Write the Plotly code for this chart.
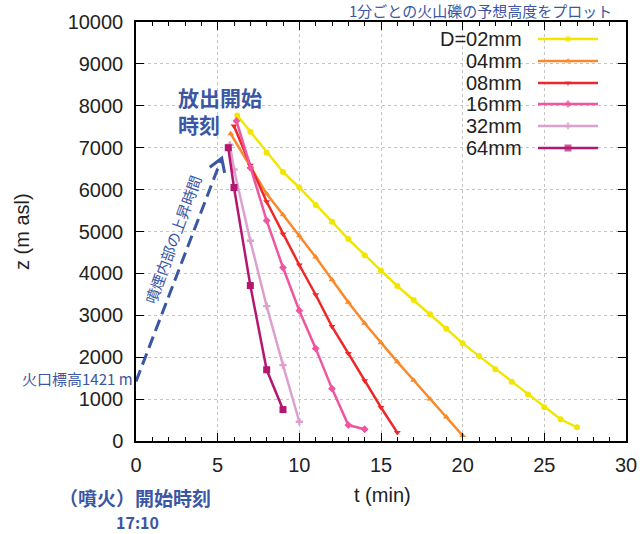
import numpy as np
import plotly.graph_objects as go

# ---------------- data ----------------
labels = ["D=02mm", "04mm", "08mm", "16mm", "32mm", "64mm"]

t02 = [6.2, 7, 8, 9, 10, 11, 12, 13, 14, 15, 16, 17, 18, 19, 20, 21, 22, 23, 24, 25, 26, 27]
z02 = [7770, 7380, 6880, 6420, 6050, 5630, 5235, 4820, 4435, 4065, 3700, 3366, 3024, 2680,
       2330, 2026, 1715, 1412, 1110, 806, 519, 328]

t04 = [5.8, 7, 8, 9, 10, 11, 12, 13, 14, 15, 16, 17, 18, 19, 20]
z04 = [7330, 6540, 5900, 5400, 4900, 4390, 3850, 3310, 2810, 2345, 1890, 1450, 1005, 574, 130]

t08 = [6.0, 7, 8, 9, 10, 11, 12, 13, 14, 15, 16]
z08 = [7520, 6580, 5710, 4940, 4200, 3490, 2730, 2090, 1440, 800, 200]

t16 = [6.15, 7, 8, 9, 10, 11, 12, 13, 14]
z16 = [7640, 6520, 5260, 4140, 3110, 2210, 1250, 380, 280]

t32 = [5.75, 6, 7, 8, 9, 10]
z32 = [7070, 6480, 4780, 3220, 1810, 460]

t64 = [5.65, 6, 7, 8, 9]
z64 = [7000, 6050, 3710, 1700, 750]

crater_elev = 1421
x_ticks = [0, 5, 10, 15, 20, 25, 30]
y_ticks = [0, 1000, 2000, 3000, 4000, 5000, 6000, 7000, 8000, 9000, 10000]

# ---------------- styling ----------------
colors = ["#f2e600", "#f98a2c", "#ee2828", "#f0559f", "#dca0cf", "#b3176f"]
symbols = ["circle", "triangle-up", "triangle-down", "diamond", "cross", "square"]
msizes = [6, 6, 6, 6, 6, 7]
series = [(t02, z02), (t04, z04), (t08, z08), (t16, z16), (t32, z32), (t64, z64)]

BLUE = "#3a56a5"
TXT = "#222222"
SANS = "Liberation Sans, Arial, sans-serif"
CJK = "Noto Sans CJK JP, sans-serif"

W, H = 640, 534
L, R, T, B = 136, 14, 22, 93
PW, PH = W - L - R, H - T - B
XR = [0, 30]
YR = [0, 10000]

fig = go.Figure()

for (t, z), c, s, ms, name in zip(series, colors, symbols, msizes, labels):
    fig.add_trace(go.Scatter(
        x=t, y=z, mode="lines+markers", name=name, showlegend=False,
        line=dict(color=c, width=2.5),
        marker=dict(color=c, symbol=s, size=ms, line=dict(width=0)),
    ))

# ---- custom gnuplot-style legend (text right, sample on right) ----
leg_rows_px = [39, 61, 83, 104, 126, 148]
lx0, lx1 = (538 - L) / PW, (598 - L) / PW
for (name, c, s, ms, ypx) in zip(labels, colors, symbols, msizes, leg_rows_px):
    fy = (T + PH - ypx) / PH
    fig.add_trace(go.Scatter(
        x=[lx0, (lx0 + lx1) / 2, lx1], y=[fy, fy, fy], xaxis="x2", yaxis="y2",
        mode="lines+markers", showlegend=False, hoverinfo="skip",
        line=dict(color=c, width=2.5),
        marker=dict(color=c, symbol=s, size=[0, ms, 0], line=dict(width=0)),
    ))
    fig.add_annotation(xref="paper", yref="paper", x=(524 - L) / PW, y=fy,
                       xanchor="right", yanchor="middle", showarrow=False,
                       text=name, font=dict(family=SANS, size=20, color=TXT))

# ---- dashed arrow from crater (t=0) to release start ----
tip_t, tip_z = 5.25, 6750
fig.add_shape(type="line", xref="x", yref="y", x0=0, y0=crater_elev, x1=tip_t, y1=tip_z,
              line=dict(color=BLUE, width=3, dash="12px,6px"))
sx = PW / (XR[1] - XR[0])
sy = PH / (YR[1] - YR[0])
v = np.array([(tip_t - 0) * sx, -(tip_z - crater_elev) * sy])
u = v / np.linalg.norm(v)
b = -u
pts = []
for ang in (np.radians(32), np.radians(-32)):
    rot = np.array([[np.cos(ang), -np.sin(ang)], [np.sin(ang), np.cos(ang)]])
    w = rot @ b * 15
    pts.append((tip_t + w[0] / sx, tip_z - w[1] / sy))
path = f"M {pts[0][0]},{pts[0][1]} L {tip_t},{tip_z} L {pts[1][0]},{pts[1][1]}"
fig.add_shape(type="path", xref="x", yref="y", path=path,
              line=dict(color=BLUE, width=3))

# ---- annotations ----
fig.add_annotation(xref="paper", yref="paper", x=(480 - L) / PW, y=(T + PH - 10) / PH,
                   text="1分ごとの火山礫の予想高度をプロット", showarrow=False,
                   xanchor="center", yanchor="middle",
                   font=dict(family=CJK, size=15, color=BLUE))
fig.add_annotation(xref="paper", yref="paper", x=(176 - L) / PW, y=(T + PH - 110) / PH,
                   text="<b>放出開始</b><br><b>時刻</b>", showarrow=False, align="left",
                   xanchor="left", yanchor="middle",
                   font=dict(family=CJK, size=21, color=BLUE))
fig.add_annotation(xref="paper", yref="paper", x=(173 - L) / PW, y=(T + PH - 240) / PH,
                   text="噴煙内部の上昇時間", showarrow=False, textangle=-70,
                   xanchor="center", yanchor="middle",
                   font=dict(family=CJK, size=15, color=BLUE))
fig.add_annotation(xref="paper", yref="paper", x=(134 - L) / PW, y=(T + PH - 378) / PH,
                   text="火口標高1421 m", showarrow=False, borderpad=0,
                   xanchor="right", yanchor="middle",
                   font=dict(family=CJK, size=15, color=BLUE))
fig.add_annotation(xref="paper", yref="paper", x=(135 - L) / PW, y=(T + PH - 497) / PH,
                   text="<b>（噴火）開始時刻</b>", showarrow=False, borderpad=0,
                   xanchor="center", yanchor="middle",
                   font=dict(family=CJK, size=19, color=BLUE))
fig.add_annotation(xref="paper", yref="paper", x=(137 - L) / PW, y=(T + PH - 522) / PH,
                   text="<b>17:10</b>", showarrow=False, borderpad=0,
                   xanchor="center", yanchor="middle",
                   font=dict(family=CJK, size=16, color=BLUE))
# axis titles
fig.add_annotation(xref="paper", yref="paper", x=(22 - L) / PW, y=(T + PH - 232) / PH,
                   text="z (m asl)", showarrow=False, textangle=-90,
                   xanchor="center", yanchor="middle",
                   font=dict(family=SANS, size=20, color=TXT))
fig.add_annotation(xref="paper", yref="paper", x=(382 - L) / PW, y=(T + PH - 495) / PH,
                   text="t (min)", showarrow=False,
                   xanchor="center", yanchor="middle",
                   font=dict(family=SANS, size=20, color=TXT))

axis_common = dict(
    showline=True, linecolor="black", linewidth=1.5, mirror="ticks",
    ticks="inside", ticklen=8, tickwidth=1, tickcolor="black",
    showgrid=True, gridcolor="#c4c4c4", griddash="dot", gridwidth=1,
    zeroline=False, automargin=False,
    tickfont=dict(family=SANS, size=20, color=TXT),
)

fig.update_layout(
    width=W, height=H,
    margin=dict(l=L, r=R, t=T, b=B, pad=0, autoexpand=False),
    paper_bgcolor="white", plot_bgcolor="white",
    showlegend=False,
    xaxis=dict(range=XR, tickvals=x_ticks, ticktext=[str(v) for v in x_ticks],
               ticklabelstandoff=5,
               minor=dict(dtick=1, ticks="inside", ticklen=4, tickcolor="black", showgrid=False),
               **axis_common),
    yaxis=dict(range=YR, tickvals=y_ticks, ticktext=[str(v) for v in y_ticks],
               ticklabelstandoff=7, **axis_common),
    xaxis2=dict(overlaying="x", range=[0, 1], visible=False, fixedrange=True),
    yaxis2=dict(overlaying="y", range=[0, 1], visible=False, fixedrange=True),
)

fig.write_html("out.html", config={"displayModeBar": False},
               post_script="document.body.style.margin='0';")
